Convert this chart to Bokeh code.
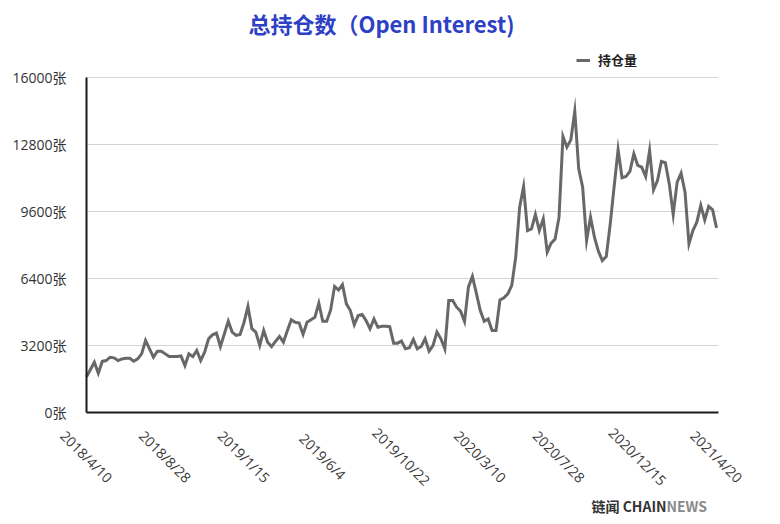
from bokeh.plotting import figure
from bokeh.models import (ColumnDataSource, Range1d, FixedTicker, LabelSet, Label,
                          Legend, LegendItem)
from bokeh.core.properties import value
from bokeh.embed import file_html
from bokeh.resources import INLINE

# ---- data (weekly open interest) ----
open_interest = [
    1700, 2050, 2400, 1880, 2440, 2480, 2640, 2610, 2480, 2560,
    2590, 2590, 2450, 2560, 2800, 3440, 3040, 2640, 2930, 2930,
    2800, 2670, 2670, 2670, 2700, 2240, 2800, 2670, 2960, 2480,
    2880, 3520, 3710, 3790, 3150, 3750, 4360, 3840, 3680, 3730,
    4300, 5060, 4000, 3840, 3200, 3920, 3360, 3150, 3400, 3630,
    3360, 3900, 4430, 4310, 4270, 3730, 4310, 4430, 4550, 5220,
    4360, 4360, 4900, 6020, 5850, 6110, 5190, 4870, 4190, 4630,
    4680, 4390, 4000, 4470, 4070, 4120, 4120, 4100, 3310, 3310,
    3410, 3040, 3090, 3490, 3040, 3150, 3520, 2930, 3200, 3840,
    3520, 3040, 5350, 5350, 5030, 4840, 4350, 6000, 6500, 5700,
    4870, 4360, 4470, 3920, 3920, 5380, 5480, 5670, 6070, 7420,
    9810, 10790, 8690, 8770, 9460, 8690, 9250, 7660, 8090, 8290,
    9330, 13180, 12670, 13020, 14390, 11640, 10760, 8210, 9330, 8370,
    7700, 7260, 7450, 9000, 10800, 12550, 11210, 11270, 11520, 12360,
    11800, 11720, 11270, 12510, 10640, 11080, 11990, 11930, 10920, 9460,
    11000, 11430, 10520, 8060, 8690, 9090, 9890, 9200, 9840, 9680,
    8820,
]
x_tick_labels = ["2018/4/10", "2018/8/28", "2019/1/15", "2019/6/4", "2019/10/22",
                 "2020/3/10", "2020/7/28", "2020/12/15", "2021/4/20"]
label_every = 20
y_ticks = [0, 3200, 6400, 9600, 12800, 16000]
y_tick_labels = ["0张", "3200张", "6400张", "9600张", "12800张", "16000张"]
series_name = "持仓量"
title_text = "总持仓数（Open Interest)"
brand_dark, brand_light = "链闻 CHAIN", "NEWS"

# ---- layout (pixels) ----
W, H = 772, 516
AX_L, AX_R, AX_T, AX_B = 86, 718, 77, 412   # plotting area inside the canvas

n = len(open_interest)
x_end = n - 0.5
y_top = y_ticks[-1]
ppx = (AX_R - AX_L) / x_end          # pixels per index step
ppy = (AX_B - AX_T) / y_top          # pixels per unit
x_range = Range1d(-AX_L / ppx, (W - AX_L) / ppx)
y_range = Range1d(-(H - AX_B) / ppy, y_top + AX_T / ppy)

idx = list(range(n))
src = ColumnDataSource(dict(x=idx, y=open_interest))
lab_src = ColumnDataSource(dict(x=[i * label_every for i in range(len(x_tick_labels))],
                                text=x_tick_labels))
grid_src = ColumnDataSource(dict(y=y_ticks[1:], x0=[0] * (len(y_ticks) - 1),
                                 x1=[x_end] * (len(y_ticks) - 1)))

FONT = "Open Sans, Noto Sans CJK SC"
CJK = "Noto Sans CJK SC"

p = figure(width=W, height=H, output_backend="svg", toolbar_location=None,
           x_range=x_range, y_range=y_range,
           min_border_left=0, min_border_right=0, min_border_top=0, min_border_bottom=0)
p.outline_line_color = None
p.background_fill_color = "white"
p.border_fill_color = "white"
p.xgrid.visible = False
p.ygrid.visible = False

# horizontal grid lines limited to the plotting area
p.segment(x0="x0", x1="x1", y0="y", y1="y", source=grid_src,
          line_color="#d4d4d4", line_width=1)

r = p.line("x", "y", source=src, line_color="#686868", line_width=3, line_join="miter")

# axes pinned at the origin, limited to the data area
p.xaxis.fixed_location = 0
p.xaxis.bounds = (0, x_end)
p.xaxis.ticker = FixedTicker(ticks=[])
p.xaxis.axis_line_color = "#1a1a1a"
p.xaxis.axis_line_width = 2
p.xaxis.major_tick_line_color = None
p.xaxis.minor_tick_line_color = None

p.yaxis.fixed_location = 0
p.yaxis.bounds = (0, y_top)
p.yaxis.ticker = FixedTicker(ticks=y_ticks)
p.yaxis.major_label_overrides = {t: l for t, l in zip(y_ticks, y_tick_labels)}
p.yaxis.axis_line_color = "#1a1a1a"
p.yaxis.axis_line_width = 2
p.yaxis.major_tick_line_color = None
p.yaxis.minor_tick_line_color = None
p.yaxis.major_label_standoff = 14
p.yaxis.major_label_text_font = FONT
p.yaxis.major_label_text_font_size = "14px"
p.yaxis.major_label_text_color = "#333333"

# rotated date labels, centred under their positions
labels = LabelSet(x="x", y=H - 456, y_units="screen", text="text", source=lab_src,
                  angle=-0.785398, text_align="center", text_baseline="middle",
                  text_font=value(FONT), text_font_size="14px", text_color="#3a3a3a")
p.add_layout(labels)

# title
p.add_layout(Label(x=381, y=H - 22, x_units="screen", y_units="screen", text=title_text,
                   text_align="center", text_baseline="middle", text_font=CJK,
                   text_font_size="22px", text_font_style="bold", text_color="#2d40c6"))

# legend
legend = Legend(items=[LegendItem(label=series_name, renderers=[r])],
                location=(576, H - 69), orientation="horizontal",
                background_fill_alpha=0, border_line_color=None,
                padding=0, margin=0, spacing=0,
                glyph_width=14, glyph_height=16, label_standoff=8, label_height=16,
                label_text_font=CJK, label_text_font_size="13px",
                label_text_font_style="bold", label_text_color="#222222")
p.add_layout(legend)

# footer brand
p.add_layout(Label(x=666, y=H - 505, x_units="screen", y_units="screen", text=brand_dark,
                   text_align="right", text_baseline="middle", text_font=CJK,
                   text_font_size="14px", text_font_style="bold", text_color="#333333"))
p.add_layout(Label(x=666, y=H - 505, x_units="screen", y_units="screen", text=brand_light,
                   text_align="left", text_baseline="middle", text_font=CJK,
                   text_font_size="14px", text_font_style="bold", text_color="#8a8a8a"))

open("out.html", "w").write(file_html(p, INLINE))
